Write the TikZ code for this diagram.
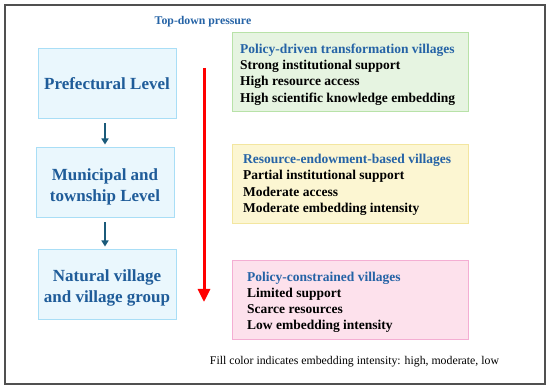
\documentclass[tikz,border=0pt]{standalone}
\usepackage{fontspec}
\setmainfont{Liberation Serif}
\usetikzlibrary{arrows.meta}
\definecolor{titleblue}{HTML}{2563A6}
\definecolor{levelblue}{HTML}{1F5C99}
\definecolor{lvfill}{HTML}{EAF7FD}
\definecolor{lvdraw}{HTML}{A9DEF6}
\definecolor{gfill}{HTML}{E6F4E1}
\definecolor{gdraw}{HTML}{B8E2A8}
\definecolor{yfill}{HTML}{FCF6D2}
\definecolor{ydraw}{HTML}{F3E6A0}
\definecolor{pfill}{HTML}{FDE1EC}
\definecolor{pdraw}{HTML}{F4AED3}
\definecolor{darrow}{HTML}{1B5A7A}
\definecolor{frame}{HTML}{505050}
\tikzset{
  level/.style={draw=lvdraw, fill=lvfill, line width=1pt, minimum width=138pt, minimum height=70pt, inner sep=0pt},
  leveltext/.style={align=center, font=\fontsize{17}{21}\selectfont\bfseries, text=levelblue, inner sep=0pt},
  vbox/.style={line width=1pt, minimum width=236pt, minimum height=79pt, inner sep=0pt},
  vtext/.style={align=left, anchor=north west, font=\fontsize{13.5}{16.3}\selectfont\bfseries, inner sep=0pt},
  down/.style={-{Triangle[length=6pt,width=7pt]}, line width=1.8pt, draw=darrow, shorten <=4pt, shorten >=3pt},
}
\begin{document}
\begin{tikzpicture}[x=1pt,y=-1pt]
\useasboundingbox (0,0) rectangle (550,390);
\fill[white] (0,0) rectangle (550,390);
\draw[frame, line width=1.3pt] (5,5) rectangle (545,384);
\node (top) at (203,22) {\fontsize{11.8}{13}\selectfont\bfseries\color{titleblue}Top-down pressure};
\node[level] (pre) at (107,84) {};
\node[level] (mun) at (105,183) {};
\node[level] (nat) at (107,285) {};
\node[leveltext] (pret) at (107,84) {Prefectural Level};
\node[leveltext] (munt) at (105,187) {Municipal and\\township Level};
\node[leveltext] (natt) at (107,288) {Natural village\\and village group};
\draw[down] (pre.south -| mun.north) -- (mun.north);
\draw[down] (mun.south) -- (nat.north -| mun.south);
\node[vbox, draw=gdraw, fill=gfill] (g) at (350.5,72.5) {};
\node[vbox, draw=ydraw, fill=yfill] (y) at (350,184.5) {};
\node[vbox, draw=pdraw, fill=pfill] (p) at (350,300.5) {};
\node[vtext] (gt) at (240,43.5) {\textcolor{titleblue}{Policy-driven transformation villages}\\Strong institutional support\\High resource access\\High scientific knowledge embedding};
\node[vtext] (yt) at (243,154) {\textcolor{titleblue}{Resource-endowment-based villages}\\Partial institutional support\\Moderate access\\Moderate embedding intensity};
\node[vtext] (pt) at (247,271.5) {\textcolor{titleblue}{Policy-constrained villages}\\Limited support\\Scarce resources\\Low embedding intensity};
\coordinate (rs) at (204,68);
\coordinate (re) at (204,302);
\draw[red, line width=3pt, -{Triangle[length=13pt,width=12pt]}] (rs) -- (re);
\node (cap) at (354.5,362) {\fontsize{11.8}{14}\selectfont Fill color indicates embedding intensity: high, moderate, low};
\end{tikzpicture}
\end{document}
